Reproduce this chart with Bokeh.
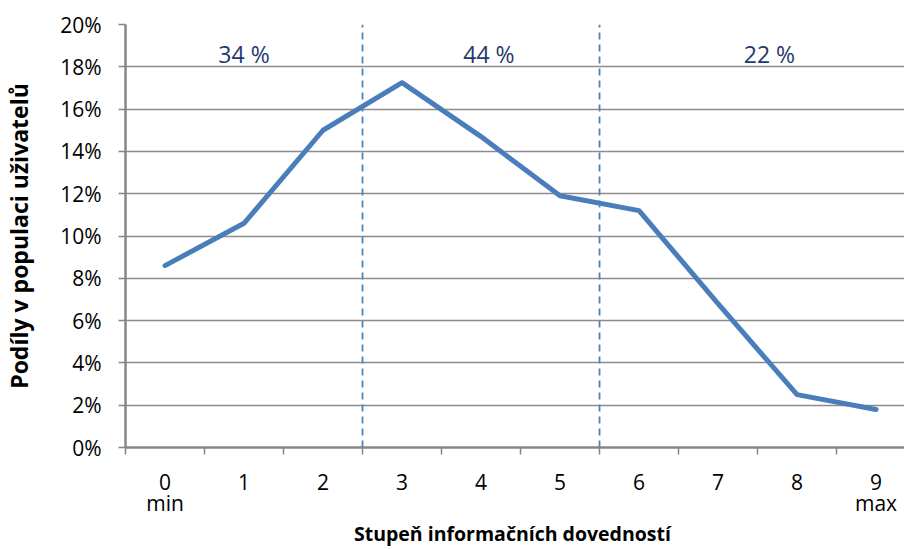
from bokeh.plotting import figure
from bokeh.models import Range1d, FixedTicker, ColumnDataSource
from bokeh.core.properties import value
from bokeh.embed import file_html
from bokeh.resources import INLINE

# ---- data ----
levels = [0, 1, 2, 3, 4, 5, 6, 7, 8, 9]
level_labels = ["0\nmin", "1", "2", "3", "4", "5", "6", "7", "8", "9\nmax"]
shares = [8.6, 10.6, 15.0, 17.25, 14.7, 11.9, 11.2, 6.8, 2.5, 1.8]   # % of users
group_bounds = [2.5, 5.5]
group_labels = ["34 %", "44 %", "22 %"]
group_label_x = [1.0, 4.1, 7.65]
y_ticks = [0, 2, 4, 6, 8, 10, 12, 14, 16, 18, 20]

FONT = "Open Sans"
GRID = "#8C8C8C"
AXIS = "#868686"
BLUE = "#4A7EBB"

p = figure(width=904, height=549, output_backend="svg", toolbar_location=None,
           x_range=Range1d(-0.5, 9.36), y_range=Range1d(0, 20))
p.min_border_left = 125
p.min_border_right = 0
p.min_border_top = 24
p.min_border_bottom = 98
p.outline_line_color = None
p.background_fill_color = "white"
p.border_fill_color = "white"

# grid
p.xgrid.grid_line_color = None
p.ygrid.grid_line_color = GRID
p.ygrid.grid_line_width = 1.5
p.ygrid.ticker = FixedTicker(ticks=y_ticks)

# y axis
ya = p.yaxis[0]
ya.ticker = FixedTicker(ticks=y_ticks)
ya.major_label_overrides = {t: f"{t}%" for t in y_ticks}
ya.axis_line_color = AXIS
ya.axis_line_width = 2.5
ya.major_tick_line_color = AXIS
ya.major_tick_line_width = 1.5
ya.major_tick_out = 7
ya.major_tick_in = 0
ya.minor_tick_line_color = None
ya.major_label_standoff = 17
ya.major_label_text_font = FONT
ya.major_label_text_font_size = "21px"
ya.major_label_text_color = "black"
ya.axis_label = "Podíly v populaci uživatelů"
ya.axis_label_text_font = FONT
ya.axis_label_text_font_style = "bold"
ya.axis_label_text_font_size = "23px"
ya.axis_label_text_color = "black"
ya.axis_label_standoff = 22

# x axis
xa = p.xaxis[0]
xa.ticker = FixedTicker(ticks=levels, minor_ticks=[l - 0.5 for l in levels] + [levels[-1] + 0.5])
xa.major_label_overrides = {l: t for l, t in zip(levels, level_labels)}
xa.axis_line_color = AXIS
xa.axis_line_width = 2.5
xa.major_tick_line_color = None
xa.major_tick_out = 0
xa.major_tick_in = 0
xa.minor_tick_line_color = AXIS
xa.minor_tick_line_width = 1.5
xa.minor_tick_out = 7
xa.minor_tick_in = 0
xa.major_label_standoff = 13
xa.major_label_text_font = FONT
xa.major_label_text_font_size = "21px"
xa.major_label_text_line_height = 0.76
xa.major_label_text_color = "black"
xa.axis_label = "Stupeň informačních  dovedností"
xa.axis_label_text_font = FONT
xa.axis_label_text_font_style = "bold"
xa.axis_label_text_font_size = "19.5px"
xa.axis_label_text_color = "black"
xa.axis_label_standoff = 0
xa.axis_label_text_line_height = 0.9

# group separators
p.segment(x0=group_bounds, y0=[y_ticks[0]] * len(group_bounds),
          x1=group_bounds, y1=[y_ticks[-1]] * len(group_bounds),
          line_color="#4F81BD", line_width=1.8, line_dash="7 5")

# main line
p.line(levels, shares, line_color=BLUE, line_width=5, line_join="round", line_cap="round")

# group share labels
src = ColumnDataSource(dict(x=group_label_x, y=[18.6] * len(group_labels), t=group_labels))
p.text(x="x", y="y", text="t", source=src, text_font=value(FONT), text_font_size="23px",
       text_color="#1F3A6E", text_align="center", text_baseline="middle")

open("out.html", "w").write(file_html(p, INLINE))
